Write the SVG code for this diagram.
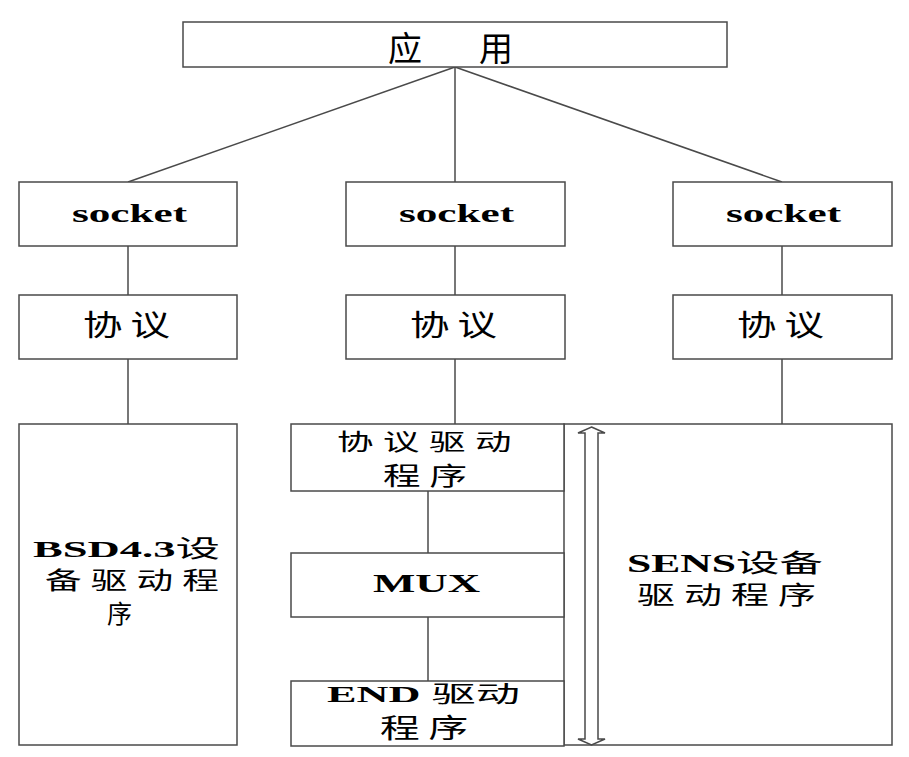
<svg xmlns="http://www.w3.org/2000/svg" width="909" height="757" viewBox="0 0 909 757">
<style>
.box{fill:#fff;stroke:#4a4a4a;stroke-width:1.5}
.ln{fill:none;stroke:#4a4a4a;stroke-width:1.5}
.lat{font-family:"Liberation Serif","Noto Sans CJK SC",serif;font-weight:bold;fill:#000}
.cjk{font-family:"Noto Sans CJK SC","Liberation Serif",sans-serif;font-weight:normal;fill:#000;letter-spacing:6px}
.b{font-weight:bold;font-family:"Liberation Serif",serif}
.n{font-weight:normal;font-family:"Noto Sans CJK SC",sans-serif}
</style>
<rect width="909" height="757" fill="#fff"/>
<g id="connectors">
<line class="ln" x1="455" y1="67" x2="128" y2="182"/>
<line class="ln" x1="455" y1="67" x2="455" y2="182"/>
<line class="ln" x1="455" y1="67" x2="782" y2="182"/>
<line class="ln" x1="128" y1="246" x2="128" y2="295"/>
<line class="ln" x1="455" y1="246" x2="455" y2="295"/>
<line class="ln" x1="782" y1="246" x2="782" y2="295"/>
<line class="ln" x1="128" y1="359" x2="128" y2="424"/>
<line class="ln" x1="455" y1="359" x2="455" y2="424"/>
<line class="ln" x1="782" y1="359" x2="782" y2="424"/>
<line class="ln" x1="428" y1="491" x2="428" y2="553"/>
<line class="ln" x1="428" y1="617" x2="428" y2="681"/>
</g>
<g id="app">
<rect class="box" x="183" y="22" width="544" height="45"/>
<text font-family="'Noto Sans CJK SC',sans-serif" font-size="34" y="61"><tspan x="388">应</tspan><tspan x="479">用</tspan></text>
</g>
<g id="socket1"><rect class="box" x="19" y="182" width="218" height="64"/>
<text class="lat" font-size="25" x="72" y="222" textLength="115" lengthAdjust="spacingAndGlyphs">socket</text></g>
<g id="socket2"><rect class="box" x="346" y="182" width="219" height="64"/>
<text class="lat" font-size="25" x="399" y="222" textLength="115" lengthAdjust="spacingAndGlyphs">socket</text></g>
<g id="socket3"><rect class="box" x="673" y="182" width="219" height="64"/>
<text class="lat" font-size="25" x="726" y="222" textLength="115" lengthAdjust="spacingAndGlyphs">socket</text></g>
<g id="proto1"><rect class="box" x="19" y="295" width="218" height="64"/>
<text class="cjk" font-size="29" x="83" y="336" textLength="95" lengthAdjust="spacingAndGlyphs">协议</text></g>
<g id="proto2"><rect class="box" x="346" y="295" width="219" height="64"/>
<text class="cjk" font-size="29" x="410" y="336" textLength="95" lengthAdjust="spacingAndGlyphs">协议</text></g>
<g id="proto3"><rect class="box" x="673" y="295" width="219" height="64"/>
<text class="cjk" font-size="29" x="737" y="336" textLength="95" lengthAdjust="spacingAndGlyphs">协议</text></g>
<g id="bsd"><rect class="box" x="19" y="424" width="218" height="321"/>
<text class="lat" font-size="24" x="33" y="557" textLength="187" lengthAdjust="spacingAndGlyphs"><tspan class="b">BSD4.3</tspan><tspan class="n">设</tspan></text>
<text class="cjk" font-size="24" x="45" y="589" textLength="183" lengthAdjust="spacingAndGlyphs">备驱动程</text>
<text class="cjk" font-size="25" x="107" y="623">序</text></g>
<g id="sens"><rect class="box" x="564" y="424" width="328" height="321"/>
<text class="lat" font-size="25" x="627" y="572" textLength="196" lengthAdjust="spacingAndGlyphs"><tspan class="b">SENS</tspan><tspan class="n">设备</tspan></text>
<text class="cjk" font-size="25" x="637" y="604" textLength="188" lengthAdjust="spacingAndGlyphs">驱动程序</text></g>
<g id="protodrv"><rect class="box" x="291" y="424" width="273" height="67"/>
<text class="cjk" font-size="23" x="337" y="450" textLength="184" lengthAdjust="spacingAndGlyphs">协议驱动</text>
<text class="cjk" font-size="25" x="383" y="485" textLength="93" lengthAdjust="spacingAndGlyphs">程序</text></g>
<g id="mux"><rect class="box" x="291" y="553" width="273" height="64"/>
<text class="lat" font-size="26" x="373" y="592" textLength="107" lengthAdjust="spacingAndGlyphs">MUX</text></g>
<g id="enddrv"><rect class="box" x="291" y="681" width="273" height="65"/>
<text class="lat" font-size="23" x="327" y="702" textLength="193" lengthAdjust="spacingAndGlyphs"><tspan class="b">END </tspan><tspan class="n">驱动</tspan></text>
<text class="cjk" font-size="27" x="380" y="738" textLength="97" lengthAdjust="spacingAndGlyphs">程序</text></g>
<g id="arrow">
<polygon class="box" points="591.5,427 605,433 598,433 598,739 605,739 591.5,745 578,739 585,739 585,433 578,433"/>
</g>
</svg>
